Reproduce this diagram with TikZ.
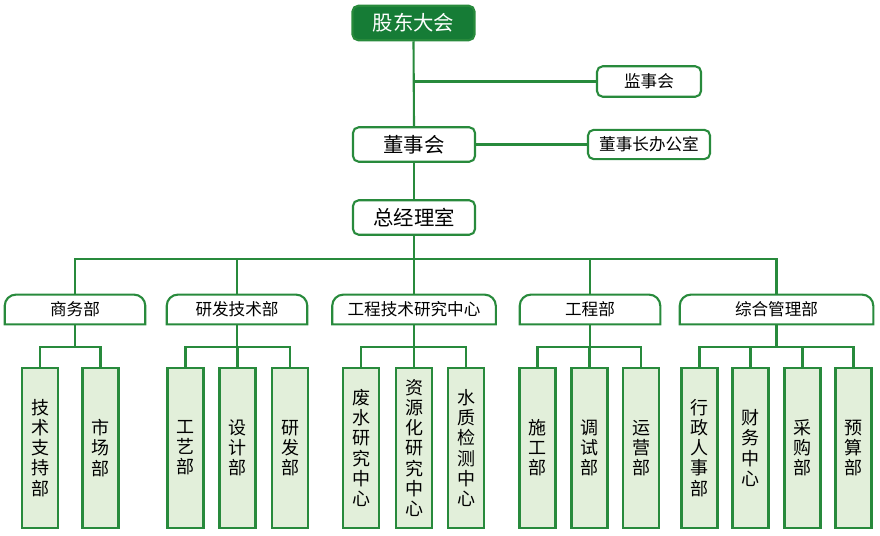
\documentclass[tikz,border=0pt]{standalone}
\usepackage{fontspec}
\setmainfont{Noto Sans CJK SC}
\usepackage{tikz}

\definecolor{linegreen}{RGB}{40,138,60}
\definecolor{darkgreen}{RGB}{22,124,54}
\definecolor{leafgreen}{RGB}{226,239,218}

\tikzset{
  headbox/.style={draw=linegreen, line width=1.5pt, rounded corners=4pt, fill=white,
    inner sep=0pt, minimum width=30.5mm, minimum height=8.6mm,
    font=\fontsize{14.5}{16}\selectfont},
  sidebox/.style={draw=linegreen, line width=1.5pt, rounded corners=4pt, fill=white,
    inner sep=0pt, minimum height=7.6mm, font=\fontsize{11.8}{13}\selectfont},
  deptbox/.style={inner sep=0pt, minimum height=7.3mm, font=\fontsize{11.8}{13}\selectfont},
  leafbox/.style={draw=linegreen, line width=1.5pt, fill=leafgreen, inner sep=0pt,
    minimum width=9mm, minimum height=40mm, align=center,
    font=\fontsize{12.8}{14.3}\selectfont},
  link/.style={draw=linegreen, line width=1.5pt}
}

\begin{document}
\begin{tikzpicture}[x=0.025cm, y=-0.025cm]
    \useasboundingbox (0,0) rectangle (880,536);
    % Top levels
    \node[headbox, fill=darkgreen, text=white] (gd) at (413.5,23) {股东大会};
    \node[sidebox, minimum width=26mm] (jsh) at (649,81.5) {监事会};
    \node[headbox] (dsh) at (414,144.5) {董事会};
    \node[sidebox, minimum width=30.5mm, minimum height=7.3mm] (bgs) at (649,144.5) {董事长办公室};
    \node[headbox] (zjl) at (414,217.5) {总经理室};
    \draw[link] (gd.south) -- (dsh.north);
    \draw[link] (gd.south |- jsh.west) -- (jsh.west);
    \draw[link] (dsh.east) -- (bgs.west);
    \draw[link] (dsh.south) -- (zjl.north);
    % Departments
    \node[deptbox, minimum width=35mm] (sw) at (75,309.5) {商务部};
    \node[deptbox, minimum width=35mm] (yf) at (237,309.5) {研发技术部};
    \node[deptbox, minimum width=40.75mm] (gc) at (414,309.5) {工程技术研究中心};
    \node[deptbox, minimum width=35mm] (gcb) at (590,309.5) {工程部};
    \node[deptbox, minimum width=48.25mm] (zh) at (776.5,309.5) {综合管理部};
    \foreach \d in {sw,yf,gc,gcb,zh}
        \draw[link] (\d.south west) -- ([yshift=-8pt]\d.north west)
            arc[start angle=180, end angle=90, radius=8pt]
            -- ([xshift=-8pt]\d.north east)
            arc[start angle=90, end angle=0, radius=8pt]
            -- (\d.south east) -- cycle;
    \coordinate (bus) at (414,259);
    \draw[link] (zjl.south) -- (bus);
    \foreach \d in {sw,yf,gc,gcb,zh}
        \draw[link] (bus) -| (\d.north);
    % Sections
    \node[leafbox] (a1) at (40,448) {技\\术\\支\\持\\部};
    \node[leafbox] (a2) at (100.5,448) {市\\场\\部};
    \node[leafbox] (b1) at (185.5,448) {工\\艺\\部};
    \node[leafbox] (b2) at (237.5,448) {设\\计\\部};
    \node[leafbox] (b3) at (290,448) {研\\发\\部};
    \node[leafbox] (c1) at (361,448) {废\\水\\研\\究\\中\\心};
    \node[leafbox] (c2) at (414,448) {资\\源\\化\\研\\究\\中\\心};
    \node[leafbox] (c3) at (466,448) {水\\质\\检\\测\\中\\心};
    \node[leafbox] (d1) at (537.5,448) {施\\工\\部};
    \node[leafbox] (d2) at (589.5,448) {调\\试\\部};
    \node[leafbox] (d3) at (641,448) {运\\营\\部};
    \node[leafbox] (e1) at (699.5,448) {行\\政\\人\\事\\部};
    \node[leafbox] (e2) at (750.5,448) {财\\务\\中\\心};
    \node[leafbox] (e3) at (802.5,448) {采\\购\\部};
    \node[leafbox] (e4) at (853.5,448) {预\\算\\部};
    \foreach \d/\s in {sw/a1,sw/a2,yf/b1,yf/b2,yf/b3,gc/c1,gc/c2,gc/c3,
                       gcb/d1,gcb/d2,gcb/d3,zh/e1,zh/e2,zh/e3,zh/e4}
        \draw[link] (\d.south) -- ++(0,23) -| (\s.north);
\end{tikzpicture}
\end{document}
